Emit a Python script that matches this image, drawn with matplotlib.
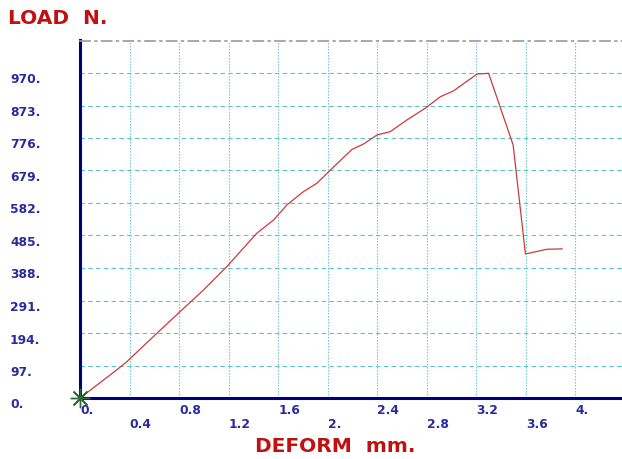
import matplotlib
matplotlib.use("Agg")
import matplotlib.pyplot as plt
import matplotlib.transforms as mtransforms

# Data
deform = [0.0, 0.297, 0.377, 0.62, 0.794, 0.996, 1.185, 1.428, 1.562, 1.670, 1.804,
          1.913, 2.006, 2.196, 2.289, 2.398, 2.505, 2.640, 2.788, 2.909, 3.017,
          3.206, 3.299, 3.497, 3.596, 3.771, 3.893]
load = [0, 84, 108, 193, 253, 322, 392, 492, 531, 576, 616,
        641, 675, 742, 758, 785, 795, 830, 865, 899, 917,
        967, 969, 755, 430, 444, 445]

xtick_values = [0.0, 0.4, 0.8, 1.2, 1.6, 2.0, 2.4, 2.8, 3.2, 3.6, 4.0]
xtick_labels = ["0.", "0.4", "0.8", "1.2", "1.6", "2.", "2.4", "2.8", "3.2", "3.6", "4."]
ytick_values = [0, 97, 194, 291, 388, 485, 582, 679, 776, 873, 970]
ytick_labels = ["0.", "97.", "194.", "291.", "388.", "485.", "582.", "679.", "776.", "873.", "970."]

W, H = 622, 459
fig = plt.figure(figsize=(W / 100, H / 100), dpi=100)
ax = fig.add_axes([80 / W, 61 / H, 545 / W, 357.5 / H])
ax.set_xlim(0, 4.4)
ax.set_ylim(0, 1067)

grid_c = "#5cc4c8"
for xv in xtick_values[1:]:
    ax.axvline(xv, color=grid_c, lw=0.8, ls=(0, (1.2, 1.5)), zorder=1)
for yv in ytick_values[1:]:
    ax.axhline(yv, color=grid_c, lw=0.8, ls=(0, (4, 3)), zorder=1)

ax.plot(deform, load, color="#cc3a3a", lw=0.9, zorder=3)
ax.plot([deform[0]], [load[0]], marker=(8, 2, 0), markersize=14, color="#2f6a3a",
        mew=1.0, zorder=4, clip_on=False)

ax.set_xticks([])
ax.set_yticks([])
for s in ["left", "bottom"]:
    ax.spines[s].set_color("#00007a")
    ax.spines[s].set_linewidth(2.2)
ax.spines["right"].set_visible(False)
ax.spines["top"].set_color("#9a9a9a")
ax.spines["top"].set_linestyle((0, (6, 3, 1, 3)))
ax.spines["top"].set_linewidth(1.2)

tick_c = "#2a2aa0"
font = "DejaVu Sans"
blend_x = mtransforms.blended_transform_factory(ax.transData, ax.transAxes)
for i, (xv, lab) in enumerate(zip(xtick_values, xtick_labels)):
    dy = -13 if i % 2 == 0 else -26
    tr = mtransforms.offset_copy(blend_x, fig=fig, x=0, y=dy, units="dots")
    ax.text(xv, 0, lab, transform=tr, ha="left", va="center", color=tick_c,
            fontsize=8.8, fontweight="bold", family=font, clip_on=False)

blend_y = mtransforms.blended_transform_factory(fig.transFigure, ax.transData)
for yv, lab in zip(ytick_values, ytick_labels):
    tr = mtransforms.offset_copy(blend_y, fig=fig, x=0, y=-7, units="dots")
    ax.text(10 / W, yv, lab, transform=tr, ha="left", va="center", color=tick_c,
            fontsize=8.8, fontweight="bold", family=font, clip_on=False)

fig.text(8 / W, 1 - 18 / H, "LOAD  N.", color="#c01010", fontsize=14.5,
         fontweight="bold", family=font, ha="left", va="center")
fig.text(255 / W, 1 - 447 / H, "DEFORM  mm.", color="#c01010", fontsize=14.5,
         fontweight="bold", family=font, ha="left", va="center")

fig.savefig("out.png", dpi=100)
